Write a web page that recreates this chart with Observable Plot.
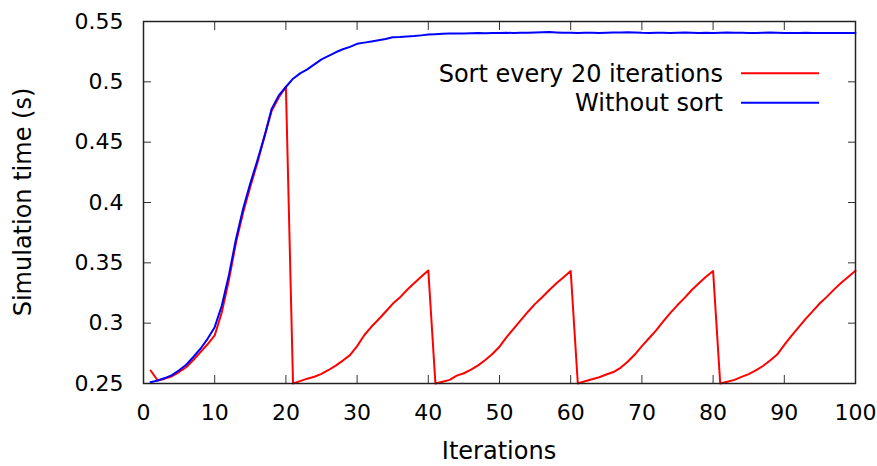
<!DOCTYPE html>
<html><head><meta charset="utf-8">
<script src="https://cdn.jsdelivr.net/npm/d3@7"></script>
<script src="https://cdn.jsdelivr.net/npm/@observablehq/plot@0.6"></script>
<style>body{margin:0;background:#fff} #chart{width:877px;height:466px}</style>
</head><body><div id="chart"></div>
<script>
const iterations = d3.range(1, 101);
const seriesNames = ["Sort every 20 iterations", "Without sort"];
const seriesColors = ["#ff0000", "#0000ff"];
const sortEvery20 = [
  0.2608, 0.2525, 0.2540, 0.2560, 0.2595, 0.2635, 0.2695, 0.2760, 0.2825, 0.2898,
  0.3090, 0.3360, 0.3670, 0.3920, 0.4130, 0.4330, 0.4550, 0.4760, 0.4870, 0.4960,
  0.2500, 0.2520, 0.2540, 0.2556, 0.2580, 0.2612, 0.2648, 0.2690, 0.2735, 0.2810,
  0.2900, 0.2970, 0.3030, 0.3095, 0.3160, 0.3212, 0.3275, 0.3330, 0.3385, 0.3437,
  0.2500, 0.2515, 0.2530, 0.2565, 0.2585, 0.2615, 0.2650, 0.2695, 0.2745, 0.2805,
  0.2885, 0.2955, 0.3025, 0.3095, 0.3160, 0.3215, 0.3275, 0.3330, 0.3380, 0.3432,
  0.2500, 0.2518, 0.2535, 0.2552, 0.2575, 0.2595, 0.2630, 0.2680, 0.2740, 0.2810,
  0.2875, 0.2940, 0.3015, 0.3085, 0.3150, 0.3210, 0.3275, 0.3330, 0.3385, 0.3432,
  0.2500, 0.2515, 0.2530, 0.2555, 0.2578, 0.2608, 0.2645, 0.2690, 0.2740, 0.2820,
  0.2895, 0.2965, 0.3035, 0.3100, 0.3165, 0.3220, 0.3280, 0.3335, 0.3385, 0.3435
];
const withoutSort = [
  0.2510, 0.2525, 0.2545, 0.2570, 0.2610, 0.2655, 0.2720, 0.2788, 0.2870, 0.2967,
  0.3146, 0.3400, 0.3700, 0.3950, 0.4160, 0.4350, 0.4550, 0.4776, 0.4888, 0.4957,
  0.5026, 0.5070, 0.5103, 0.5145, 0.5186, 0.5215, 0.5245, 0.5270, 0.5290, 0.5315,
  0.5325, 0.5335, 0.5345, 0.5355, 0.5370, 0.5372, 0.5376, 0.5379, 0.5385, 0.5392,
  0.5395, 0.5398, 0.5400, 0.5401, 0.5400, 0.5402, 0.5404, 0.5403, 0.5405, 0.5404,
  0.5406, 0.5405, 0.5407, 0.5406, 0.5408, 0.5410, 0.5412, 0.5409, 0.5407, 0.5406,
  0.5405, 0.5407, 0.5406, 0.5405, 0.5407, 0.5409, 0.5408, 0.5410, 0.5409, 0.5406,
  0.5405, 0.5407, 0.5406, 0.5405, 0.5406, 0.5408, 0.5407, 0.5405, 0.5406, 0.5404,
  0.5406, 0.5408, 0.5407, 0.5406, 0.5405, 0.5404, 0.5406, 0.5408, 0.5406, 0.5405,
  0.5404, 0.5405, 0.5406, 0.5405, 0.5404, 0.5405, 0.5404, 0.5405, 0.5405, 0.5405
];
const xTicks = [0, 10, 20, 30, 40, 50, 60, 70, 80, 90, 100];
const xTickLabels = ["0", "10", "20", "30", "40", "50", "60", "70", "80", "90", "100"];
const yTicks = [0.25, 0.3, 0.35, 0.4, 0.45, 0.5, 0.55];
const yTickLabels = ["0.25", "0.3", "0.35", "0.4", "0.45", "0.5", "0.55"];
const xTitle = "Iterations";
const yTitle = "Simulation time (s)";

const rows = [];
[sortEvery20, withoutSort].forEach((vals, s) => {
  iterations.forEach((it, i) => rows.push({series: seriesNames[s], x: it, y: vals[i]}));
});

const W = 877, H = 466, mL = 143, mR = 22, mT = 21, mB = 83;
const font = "DejaVu Sans";

const plot = Plot.plot({
  width: W, height: H,
  marginLeft: mL, marginRight: mR, marginTop: mT, marginBottom: mB,
  style: {fontFamily: font, fontSize: "22px", background: "white", color: "#000", overflow: "visible"},
  x: {domain: [0, 100], label: null},
  y: {domain: [0.25, 0.55], label: null},
  color: {domain: seriesNames, range: seriesColors},
  marks: [
    Plot.line(rows, {x: "x", y: "y", z: "series", stroke: "series", strokeWidth: 2}),
    Plot.axisX(xTicks, {anchor: "bottom", tickSize: 0, tickPadding: 21, tickFormat: d => xTickLabels[xTicks.indexOf(d)], fontSize: 22}),
    Plot.axisX(xTicks, {anchor: "bottom", tickSize: 8, dy: -8, text: null, stroke: "#333"}),
    Plot.axisX(xTicks, {anchor: "top", tickSize: 8, dy: 8, text: null, stroke: "#333"}),
    Plot.axisY(yTicks, {anchor: "left", tickSize: 0, tickPadding: 20, tickFormat: d => yTickLabels[yTicks.indexOf(d)], fontSize: 22}),
    Plot.axisY(yTicks, {anchor: "left", tickSize: 8, dx: 8, text: null, stroke: "#333"}),
    Plot.axisY(yTicks, {anchor: "right", tickSize: 8, dx: -8, text: null, stroke: "#333"}),
    Plot.frame({stroke: "#222", strokeWidth: 1.5})
  ]
});

const svg = d3.select(plot);
// axis titles
svg.append("text").attr("x", mL + (W - mL - mR) / 2).attr("y", 459)
  .attr("text-anchor", "middle").attr("font-family", font).attr("font-size", 24).attr("fill", "#000").text(xTitle);
svg.append("text").attr("transform", `translate(31,${mT + (H - mT - mB) / 2}) rotate(-90)`)
  .attr("text-anchor", "middle").attr("font-family", font).attr("font-size", 24).attr("fill", "#000").text(yTitle);
// legend
const lg = svg.append("g").attr("font-family", font).attr("font-size", 24);
seriesNames.forEach((name, i) => {
  const y = 73.3 + i * 29.4;
  lg.append("text").attr("x", 723).attr("y", y).attr("dy", "0.35em").attr("text-anchor", "end").attr("fill", "#000").text(name);
  lg.append("line").attr("x1", 741).attr("x2", 819).attr("y1", y).attr("y2", y).attr("stroke", seriesColors[i]).attr("stroke-width", 2);
});
document.getElementById("chart").appendChild(plot);
</script>
</body></html>
